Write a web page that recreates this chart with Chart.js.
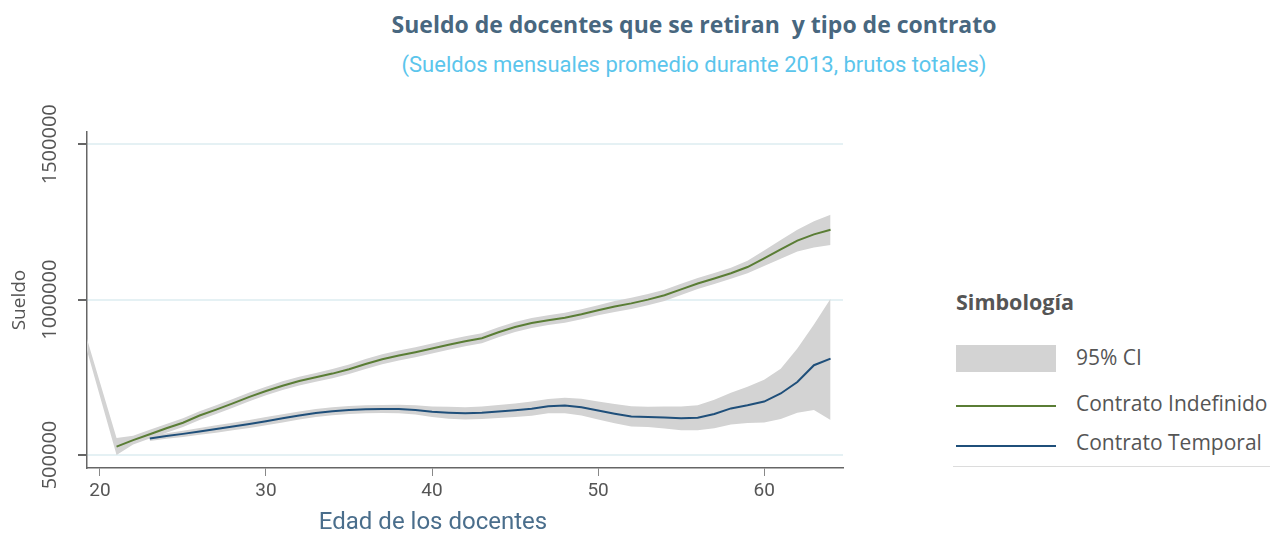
<!DOCTYPE html>
<html>
<head>
<meta charset="utf-8">
<script src="https://cdn.jsdelivr.net/npm/chart.js@4.4.1/dist/chart.umd.min.js"></script>
<style>
  html, body { margin: 0; padding: 0; background: #fff; }
  body { width: 1272px; height: 536px; position: relative; overflow: hidden; font-family: Roboto, "Noto Sans", sans-serif; }
  #wrap { position: absolute; left: 0; top: 0; width: 860px; height: 536px; }
  .title { position: absolute; left: 344px; width: 700px; text-align: center; top: 8px; font-family: "Open Sans"; font-size: 23px; font-weight: bold; color: #48677f; white-space: nowrap; }
  .subtitle { position: absolute; left: 344px; width: 700px; text-align: center; top: 52px; font-size: 22px; color: #5bc5ec; white-space: nowrap; }
  .xtitle { position: absolute; left: 283px; width: 300px; text-align: center; top: 507px; font-size: 24px; color: #4a6e8c; white-space: nowrap; }
  .legend { position: absolute; left: 956px; top: 290px; color: #555; font-family: "Open Sans"; font-size: 21px; }
  .legend .lt { position: absolute; left: 0; top: -3px; font-weight: bold; font-size: 21.5px; white-space: nowrap; color: #555; }
  .legend .sw { position: absolute; left: 0; width: 100px; }
  .legend .tx { position: absolute; left: 120px; white-space: nowrap; }
  .sep { position: absolute; left: 953px; width: 317px; top: 466px; height: 1px; background: #dcdcdc; }
</style>
</head>
<body>
<div class="title">Sueldo de docentes que se retiran&nbsp; y tipo de contrato</div>
<div class="subtitle">(Sueldos mensuales promedio durante 2013, brutos totales)</div>
<div id="wrap"><canvas id="c" width="860" height="536"></canvas></div>
<div class="xtitle">Edad de los docentes</div>
<div class="legend">
  <div class="lt">Simbología</div>
  <div class="sw" style="top:55px;height:27px;background:#d3d3d3;"></div>
  <div class="tx" style="top:53px;">95% CI</div>
  <div class="sw" style="top:115px;height:2px;background:#5a7d35;"></div>
  <div class="tx" style="top:99px;">Contrato Indefinido</div>
  <div class="sw" style="top:155px;height:2px;background:#1f4f7a;"></div>
  <div class="tx" style="top:138px;">Contrato Temporal</div>
</div>
<div class="sep"></div>
<script>
const ages = [19,21,22,23,24,25,26,27,28,29,30,31,32,33,34,35,36,37,38,39,40,41,42,43,44,45,46,47,48,49,50,51,52,53,54,55,56,57,58,59,60,61,62,63,64];

const indefinido = [null,527000,548000,567000,586000,604000,627000,646000,666000,687000,706000,723000,738000,750000,762000,776000,793000,808000,820000,831000,843000,855000,866000,876000,895000,912000,925000,934000,942000,953000,966000,978000,988000,1000000,1014000,1033000,1052000,1068000,1085000,1105000,1133000,1162000,1190000,1210000,1225000];
const indefinidoLo = [878000,500000,534000,553000,572000,590000,613000,632000,652000,673000,692000,709000,724000,736000,747000,761000,777000,792000,804000,815000,827000,839000,850000,860000,879000,896000,909000,918000,926000,937000,950000,960000,970000,982000,996000,1015000,1034000,1050000,1067000,1085000,1108000,1132000,1155000,1168000,1176000];
const indefinidoHi = [913000,555000,562000,581000,600000,618000,641000,660000,680000,701000,720000,737000,752000,764000,777000,791000,809000,824000,836000,847000,859000,871000,882000,892000,911000,928000,941000,950000,958000,969000,982000,996000,1006000,1018000,1032000,1051000,1070000,1086000,1103000,1125000,1158000,1192000,1225000,1252000,1273000];

const temporal = [null,null,null,553000,561000,568000,576000,584000,592000,600000,609000,618000,627000,635000,641000,645000,647000,648000,648000,645000,639000,636000,634000,636000,640000,644000,649000,657000,659000,654000,643000,633000,624000,622000,621000,618000,620000,632000,650000,660000,672000,698000,735000,789000,810000];
const temporalLo = [null,null,null,545000,552000,558000,565000,572000,580000,587000,596000,605000,614000,622000,628000,632000,634000,635000,634000,630000,622000,617000,614000,616000,619000,622000,626000,634000,634000,627000,614000,602000,592000,590000,585000,580000,580000,586000,598000,603000,605000,616000,636000,645000,613000];
const temporalHi = [null,null,null,561000,570000,578000,587000,596000,604000,613000,622000,631000,640000,648000,654000,658000,660000,661000,662000,660000,656000,655000,654000,656000,661000,666000,672000,680000,684000,681000,672000,664000,657000,655000,656000,656000,660000,678000,700000,720000,742000,778000,843000,920000,1003000];

const xTicks = [20,30,40,50,60];
const yTicks = [500000,1000000,1500000];

function pts(arr) {
  const out = [];
  ages.forEach((a, i) => { if (arr[i] !== null) out.push({x: a, y: arr[i]}); });
  return out;
}

const GREEN = '#5a7d35', BLUE = '#1f4f7a', BAND = '#d3d3d3';
const lineBase = { pointRadius: 0, pointHoverRadius: 0, tension: 0, borderWidth: 2, fill: false };
const bandBase = { pointRadius: 0, pointHoverRadius: 0, tension: 0, borderWidth: 0, borderColor: 'rgba(0,0,0,0)' };

new Chart(document.getElementById('c'), {
  type: 'line',
  data: {
    datasets: [
      Object.assign({ label: 'Contrato Indefinido', data: pts(indefinido), borderColor: GREEN }, lineBase),
      Object.assign({ label: 'Contrato Temporal', data: pts(temporal), borderColor: BLUE }, lineBase),
      Object.assign({ label: 'IC sup indef', data: pts(indefinidoHi), fill: false }, bandBase),
      Object.assign({ label: 'IC inf indef', data: pts(indefinidoLo), fill: 2, backgroundColor: BAND }, bandBase),
      Object.assign({ label: 'IC sup temp', data: pts(temporalHi), fill: false }, bandBase),
      Object.assign({ label: 'IC inf temp', data: pts(temporalLo), fill: 4, backgroundColor: BAND }, bandBase)
    ]
  },
  options: {
    responsive: false,
    devicePixelRatio: 1,
    animation: false,
    layout: { padding: { left: 0, right: 17, top: 132, bottom: 0 } },
    plugins: { legend: { display: false }, tooltip: { enabled: false }, title: { display: false } },
    scales: {
      x: {
        type: 'linear',
        min: 19.22,
        max: 64.75,
        afterBuildTicks: s => { s.ticks = xTicks.map(v => ({ value: v })); },
        afterFit: s => { s.height = 68; },
        grid: { display: true, drawOnChartArea: false, drawTicks: true, tickLength: 8, tickColor: '#888', color: '#888' },
        border: { display: true, color: '#666', width: 1.5 },
        ticks: { color: '#555', font: { family: 'Roboto', size: 19 }, padding: 4, maxRotation: 0 }
      },
      y: {
        type: 'linear',
        min: 458200,
        max: 1539500,
        afterBuildTicks: s => { s.ticks = yTicks.map(v => ({ value: v })); },
        afterFit: s => { s.width = 87; },
        grid: { display: true, drawOnChartArea: true, color: '#e5f1f4', lineWidth: 2, tickLength: 9, tickColor: '#666' },
        border: { display: true, color: '#666', width: 1.5 },
        ticks: { color: '#555', font: { family: 'Open Sans', size: 20 }, padding: -12, minRotation: 90, maxRotation: 90, crossAlign: 'center', callback: v => String(v) },
        title: { display: true, text: 'Sueldo', color: '#555', font: { family: 'Open Sans', size: 19 }, padding: { top: 8, bottom: 0 } }
      }
    }
  }
});
</script>
</body>
</html>
